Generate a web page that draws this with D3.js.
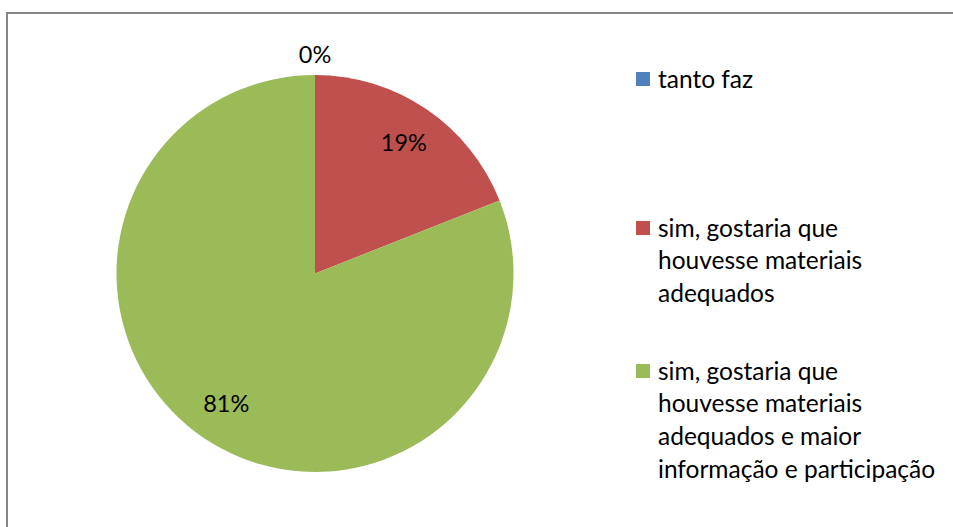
<!DOCTYPE html>
<html>
<head>
<meta charset="utf-8">
<script src="https://cdn.jsdelivr.net/npm/d3@7"></script>
<style>
  body { margin: 0; padding: 0; background: #fff; }
  svg { display: block; font-family: Lato, "Open Sans", sans-serif; }
</style>
</head>
<body>
<script>
const categories = [
  "tanto faz",
  "sim, gostaria que houvesse materiais adequados",
  "sim, gostaria que houvesse materiais adequados e maior informação e participação"
];
const values = [0, 19, 81];
const labels = ["0%", "19%", "81%"];
const legendLines = [
  ["tanto faz"],
  ["sim, gostaria que", "houvesse materiais", "adequados"],
  ["sim, gostaria que", "houvesse materiais", "adequados e maior", "informação e participação"]
];
const colors = ["#4F81BD", "#C0504D", "#9BBB59"];

const width = 953, height = 527;
const cx = 315, cy = 273.5, radius = 198.5;

const svg = d3.select("body").append("svg")
  .attr("width", width)
  .attr("height", height);

// chart border
svg.append("rect")
  .attr("x", 7).attr("y", 13)
  .attr("width", width).attr("height", height)
  .attr("fill", "#fff")
  .attr("stroke", "#868686")
  .attr("stroke-width", 2);

const color = d3.scaleOrdinal().domain(categories).range(colors);

const pie = d3.pie().sort(null).value(d => d.v);
const data = categories.map((c, i) => ({ c, v: values[i], label: labels[i] }));
const arcs = pie(data);

const arc = d3.arc().innerRadius(0).outerRadius(radius);
const labelArc = d3.arc().innerRadius(158).outerRadius(158);
const outerArc = d3.arc().innerRadius(radius + 20).outerRadius(radius + 20);

const g = svg.append("g").attr("transform", `translate(${cx},${cy})`);

g.selectAll("path")
  .data(arcs)
  .join("path")
  .attr("d", arc)
  .attr("fill", d => color(d.data.c));

g.selectAll("text")
  .data(arcs)
  .join("text")
  .attr("transform", d => `translate(${(d.data.v === 0 ? outerArc : labelArc).centroid(d)})`)
  .attr("text-anchor", "middle")
  .attr("dy", "0.35em")
  .attr("font-size", 23.5)
  .attr("fill", "#000")
  .text(d => d.data.label);

// legend
const legendTop = [79, 228, 371];
const lineH = 32.7;
const legend = svg.append("g").attr("transform", "translate(636,0)");

const item = legend.selectAll("g")
  .data(categories)
  .join("g")
  .attr("transform", (d, i) => `translate(0,${legendTop[i]})`);

item.append("rect")
  .attr("x", 0).attr("y", -7)
  .attr("width", 14).attr("height", 14)
  .attr("fill", d => color(d));

item.append("text")
  .attr("x", 22)
  .attr("font-size", 24.5)
  .attr("fill", "#000")
  .selectAll("tspan")
  .data((d, i) => legendLines[i])
  .join("tspan")
  .attr("x", 22)
  .attr("y", (d, j) => j * lineH)
  .attr("dy", "0.35em")
  .text(d => d);
</script>
</body>
</html>
